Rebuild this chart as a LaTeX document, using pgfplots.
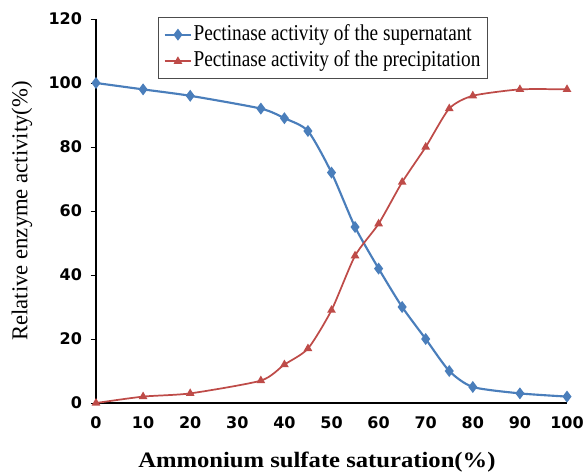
\documentclass[border=0pt]{standalone}
\usepackage{pgfplots}
\pgfplotsset{compat=1.18}
\usepackage{fontspec}
\setmainfont{Liberation Serif}
\newfontfamily\legfont[FakeStretch=0.85]{Liberation Serif}
\newfontfamily\xlabfont[FakeStretch=1.12]{Liberation Serif}
\newfontfamily\tickfont{DejaVu Sans}
\definecolor{supblue}{RGB}{74,126,187}
\definecolor{prered}{RGB}{190,75,72}
\begin{document}
\begin{tikzpicture}
\useasboundingbox (-72pt,-52.5pt) rectangle (366.75pt,302.25pt);
\begin{axis}[at={(0,0)}, anchor=south west, scale only axis, width=353.25pt, height=288pt,
  xmin=0, xmax=100, ymin=0, ymax=120,
  xtick={0,10,...,100}, ytick={0,20,...,120},
  axis x line*=bottom, axis y line*=left,
  axis line style={black, line width=1.8pt},
  x tick style={draw=none}, y tick style={black, line width=0.6pt},
  tick align=outside, major tick length=4pt,
  tick label style={font=\tickfont\bfseries\fontsize{12}{14}\selectfont},
  yticklabel style={xshift=-3pt}, xticklabel style={yshift=-2.5pt},
  /pgf/number format/assume math mode=true,
  xlabel={\xlabfont\bfseries Ammonium sulfate saturation(\%)},
  ylabel={Relative enzyme activity(\%)},
  xlabel style={font=\fontsize{16.5}{18}\selectfont, at={(axis description cs:0.469,-0.154)}, anchor=center},
  ylabel style={font=\fontsize{17}{20}\selectfont, at={(axis description cs:-0.157,0.5)}, anchor=center},
  legend style={font=\legfont\fontsize{17}{20}\selectfont, draw=black!70, fill=white,
    at={(0.1316,1.005)}, anchor=north west, inner sep=4pt, row sep=2pt,
    nodes={inner sep=1pt, text height=12pt, text depth=4pt}},
  legend image code/.code={\draw[mark repeat=2,mark phase=2] plot coordinates {(0cm,0cm) (0.35cm,0cm) (0.7cm,0cm)};},
  legend cell align=left,
  clip=false]
\addplot[supblue, line width=1.6pt, smooth, tension=0.4, mark=diamond*, mark size=3.2pt, mark options={solid}]
coordinates {(0,100) (10,98) (20,96) (35,92) (40,89) (45,85) (50,72) (55,55) (60,42) (65,30) (70,20) (75,10) (80,5) (90,3) (100,2)};
\addlegendentry{Pectinase activity of the supernatant}
\addplot[prered, line width=1.3pt, smooth, tension=0.4, mark=triangle*, mark size=2.5pt, mark options={solid}]
coordinates {(0,0) (10,2) (20,3) (35,7) (40,12) (45,17) (50,29) (55,46) (60,56) (65,69) (70,80) (75,92) (80,96) (90,98) (100,98)};
\addlegendentry{Pectinase activity of the precipitation}
\end{axis}
\end{tikzpicture}
\end{document}
